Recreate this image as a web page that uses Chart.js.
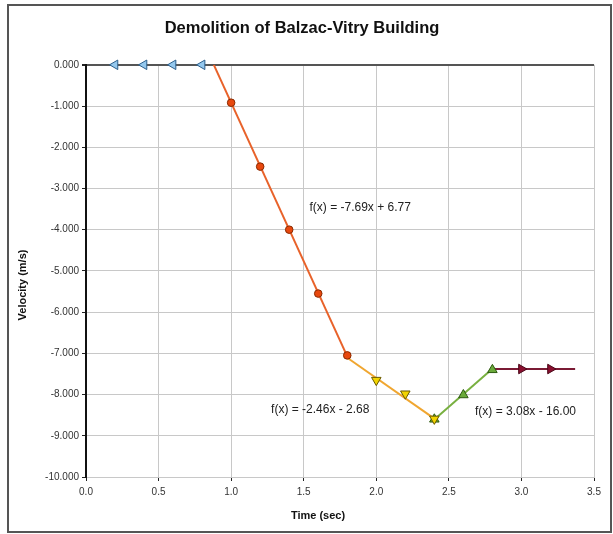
<!DOCTYPE html>
<html>
<head>
<meta charset="utf-8">
<script src="https://cdn.jsdelivr.net/npm/chart.js@4/dist/chart.umd.min.js"></script>
<style>
  html, body { margin: 0; padding: 0; background: #fff; }
  #wrap { width: 613px; height: 534px; }
</style>
</head>
<body>
<div id="wrap"><canvas id="myChart" width="613" height="534"></canvas></div>
<script>
// measured points (time in s, velocity in m/s)
const restTimes = [0.2, 0.4, 0.6, 0.8];
const restVel = [0, 0, 0, 0];
const fallTimes = [1.0, 1.2, 1.4, 1.6, 1.8];
const fallVel = [-0.92, -2.47, -4.0, -5.55, -7.05];
const slowTimes = [2.0, 2.2, 2.4];
const slowVel = [-7.65, -7.98, -8.59];
const riseTimes = [2.4, 2.6, 2.8];
const riseVel = [-8.60, -8.01, -7.40];
const endTimes = [3.0, 3.2];
const endVel = [-7.38, -7.38];

// linear fits shown on the chart
const fitSlopes = [-7.69, -2.46, 3.08, 0];
const fitIntercepts = [6.77, -2.68, -16.00, -7.38];
const fitFrom = [0.88, 1.8, 2.4, 2.8];
const fitTo = [1.8, 2.4, 2.8, 3.37];
const fitLabels = ['f(x) = -7.69x + 6.77', 'f(x) = -2.46x - 2.68', 'f(x) = 3.08x - 16.00'];

const xTicks = [0, 0.5, 1.0, 1.5, 2.0, 2.5, 3.0, 3.5];

const FONT = '"Liberation Sans", Arial, sans-serif';

function pts(xs, ys) {
    let out = [];
    for (let i = 0; i < xs.length; i++) out.push({x: xs[i], y: ys[i]});
    return out;
}
function fitLine(i) {
    return [
        {x: fitFrom[i], y: fitSlopes[i] * fitFrom[i] + fitIntercepts[i]},
        {x: fitTo[i], y: fitSlopes[i] * fitTo[i] + fitIntercepts[i]}
    ];
}

const lineColors = ['#e8622a', '#f0a630', '#78b040', '#7a1a34'];
// where the fit labels sit, in axis units
const labelPos = [[1.54, -3.47], [1.275, -8.37], [2.68, -8.42]];

const framePlugin = {
    id: 'frame',
    beforeDraw(chart) {
        const ctx = chart.ctx;
        ctx.save();
        ctx.fillStyle = '#fff';
        ctx.fillRect(0, 0, chart.width, chart.height);
        ctx.strokeStyle = '#555';
        ctx.lineWidth = 2;
        ctx.strokeRect(8, 5, 603, 527);
        ctx.restore();
    },
    afterDatasetsDraw(chart) {
        const ctx = chart.ctx;
        const xs = chart.scales.x, ys = chart.scales.y;
        ctx.save();
        ctx.fillStyle = '#222';
        ctx.font = '12px ' + FONT;
        ctx.textBaseline = 'middle';
        for (let i = 0; i < fitLabels.length; i++) {
            ctx.fillText(fitLabels[i], xs.getPixelForValue(labelPos[i][0]), ys.getPixelForValue(labelPos[i][1]));
        }
        // axis titles (sit a little off-centre in the original)
        ctx.fillStyle = '#111';
        ctx.font = 'bold 11px ' + FONT;
        ctx.textAlign = 'center';
        ctx.fillText('Time (sec)', 318, 516);
        ctx.translate(23, 285);
        ctx.rotate(-Math.PI / 2);
        ctx.fillText('Velocity (m/s)', 0, 0);
        ctx.restore();
    }
};

let datasets = [];
for (let i = 0; i < fitSlopes.length; i++) {
    datasets.push({
        type: 'line',
        data: fitLine(i),
        borderColor: lineColors[i],
        borderWidth: 2,
        pointRadius: 0,
        showLine: true,
        order: 10
    });
}
datasets.push({
    data: pts(restTimes, restVel),
    pointStyle: 'triangle', rotation: -90, pointRadius: 5.5,
    backgroundColor: '#94c8ee', borderColor: '#2c5f8c', borderWidth: 1, order: 1, clip: false
});
datasets.push({
    data: pts(fallTimes, fallVel),
    pointStyle: 'circle', pointRadius: 3.8,
    backgroundColor: '#e8480e', borderColor: '#8a2a00', borderWidth: 1, order: 1, clip: false
});
datasets.push({
    data: pts(riseTimes, riseVel),
    pointStyle: 'triangle', rotation: 0, pointRadius: 5.5,
    backgroundColor: '#6aaa3a', borderColor: '#2d5a10', borderWidth: 1, order: 3, clip: false
});
datasets.push({
    data: pts(slowTimes, slowVel),
    pointStyle: 'triangle', rotation: 180, pointRadius: 5.5,
    backgroundColor: '#f2d400', borderColor: '#6a5a00', borderWidth: 1, order: 2, clip: false
});
datasets.push({
    data: pts(endTimes, endVel),
    pointStyle: 'triangle', rotation: 90, pointRadius: 5.5,
    backgroundColor: '#8a1030', borderColor: '#4a0818', borderWidth: 1, order: 1, clip: false
});

const tickFont = {family: FONT, size: 10};

const config = {
    type: 'scatter',
    data: {datasets: datasets},
    options: {
        responsive: false,
        animation: false,
        layout: {padding: {top: 8, left: 10, right: 19, bottom: 0}},
        plugins: {
            legend: {display: false},
            tooltip: {enabled: false},
            title: {
                display: true,
                text: 'Demolition of Balzac-Vitry Building',
                color: '#111',
                font: {family: FONT, size: 16.5, weight: 'bold'},
                padding: {top: 11, bottom: 26}
            }
        },
        scales: {
            x: {
                type: 'linear', min: 0, max: 3.5,
                afterBuildTicks(scale) { scale.ticks = xTicks.map(v => ({value: v})); },
                afterFit(scale) { scale.height = 57; },
                grid: {color: '#c8c8c8', lineWidth: 1, tickLength: 4, tickColor: '#222'},
                border: {color: '#c8c8c8'},
                ticks: {
                    color: '#333', font: tickFont, padding: 5, maxRotation: 0,
                    callback: v => v.toFixed(1)
                }
            },
            y: {
                type: 'linear', min: -10, max: 0,
                ticks: {
                    stepSize: 1, color: '#333', font: tickFont, padding: 3,
                    callback: v => v.toFixed(3)
                },
                afterFit(scale) { scale.width = 76; },
                grid: {
                    color: ctx => (ctx.tick && ctx.tick.value === 0) ? '#555' : '#c8c8c8',
                    lineWidth: ctx => (ctx.tick && ctx.tick.value === 0) ? 2 : 1,
                    tickLength: 4, tickColor: '#222'
                },
                border: {color: '#111', width: 2}
            }
        }
    },
    plugins: [framePlugin]
};

const myChart = new Chart(document.getElementById('myChart'), config);
</script>
</body>
</html>
